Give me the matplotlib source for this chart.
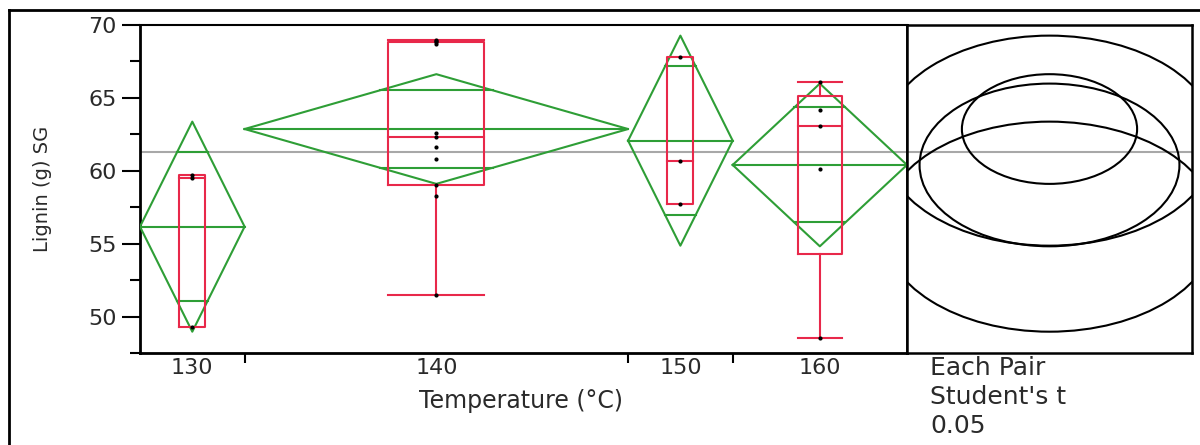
import numpy as np
import matplotlib
matplotlib.use("Agg")
import matplotlib.pyplot as plt
from matplotlib.patches import Ellipse
from matplotlib.lines import Line2D

# Lignin (g) SG by temperature group
temps = ["130", "140", "150", "160"]
lignin_130 = [49.3, 59.5, 59.7]
lignin_140 = [51.5, 58.3, 59.0, 60.8, 61.6, 62.3, 62.6, 68.7, 68.8, 68.9, 69.0]
lignin_150 = [57.7, 60.7, 67.8]
lignin_160 = [48.5, 60.1, 63.1, 64.2, 66.1]
groups = [lignin_130, lignin_140, lignin_150, lignin_160]

t_crit = 2.101  # Student's t, alpha 0.05, 18 df

red = "#e8284a"
green = "#2e9e36"
gray = "#a8a8a8"
txt = "#2a2a2a"

plt.rcParams['font.family'] = ['DejaVu Sans']

fig = plt.figure(figsize=(12, 4.45), dpi=100)
W, H = 1200, 445

def fx(px):
    return px / W

def fy(py):
    return 1 - py / H

# outer frame
fig.add_artist(Line2D([fx(9), fx(9)], [fy(10), 0], transform=fig.transFigure, color="black", lw=2))
fig.add_artist(Line2D([fx(9), 1], [fy(10), fy(10)], transform=fig.transFigure, color="black", lw=2))

ax = fig.add_axes([fx(140), fy(353), fx(907) - fx(140), fy(25) - fy(353)])
axc = fig.add_axes([fx(907), fy(353), fx(1192) - fx(907), fy(25) - fy(353)])

ns = np.array([len(g) for g in groups])
edges = np.concatenate([[0], np.cumsum(ns)])
centers = (edges[:-1] + edges[1:]) / 2
means = np.array([np.mean(g) for g in groups])
sse = sum(((np.array(g) - np.mean(g)) ** 2).sum() for g in groups)
mse = sse / (ns.sum() - len(groups))
half = t_crit * np.sqrt(mse / ns)
grand = np.mean(np.concatenate(groups))

ylo, yhi = 47.5, 70

ax.axhline(grand, color=gray, lw=1.5, zorder=1)

for i, g in enumerate(groups):
    l, r, c = edges[i], edges[i + 1], centers[i]
    m, h = means[i], half[i]
    # means diamond
    ax.plot([l, c, r, c, l], [m, m + h, m, m - h, m], color=green, lw=1.5, zorder=3)
    ax.plot([l, r], [m, m], color=green, lw=1.5, zorder=3)
    hw = (r - l) / 2
    for s in (1, -1):
        yv = m + s * h / np.sqrt(2)
        w = hw * (1 - 1 / np.sqrt(2))
        ax.plot([c - w, c + w], [yv, yv], color=green, lw=1.5, zorder=3)
    # box plot
    q1, med, q3 = np.percentile(g, [25, 50, 75], method="weibull")
    iqr = q3 - q1
    arr = np.array(g)
    wlo = arr[arr >= q1 - 1.5 * iqr].min()
    whi = arr[arr <= q3 + 1.5 * iqr].max()
    bw = 0.25 * (r - l) / 2
    ax.plot([c - bw, c + bw, c + bw, c - bw, c - bw], [q1, q1, q3, q3, q1], color=red, lw=1.5, zorder=4)
    ax.plot([c - bw, c + bw], [med, med], color=red, lw=1.5, zorder=4)
    if whi > q3:
        ax.plot([c, c], [q3, whi], color=red, lw=1.5, zorder=4)
        ax.plot([c - bw, c + bw], [whi, whi], color=red, lw=1.5, zorder=4)
    if wlo < q1:
        ax.plot([c, c], [wlo, q1], color=red, lw=1.5, zorder=4)
        ax.plot([c - bw, c + bw], [wlo, wlo], color=red, lw=1.5, zorder=4)
    ax.scatter(np.full(len(g), c), g, s=9, color="black", zorder=5, linewidths=0)

ax.set_xlim(edges[0], edges[-1])
ax.set_ylim(ylo, yhi)
ax.set_yticks([50, 55, 60, 65, 70])
ax.set_yticks([47.5, 52.5, 57.5, 62.5, 67.5], minor=True)
ax.tick_params(axis="y", which="major", length=13, width=1.5, labelsize=16, pad=4, labelcolor=txt)
ax.tick_params(axis="y", which="minor", length=7.2, width=1.5)
ax.set_xticks(edges[1:-1])
ax.set_xticklabels([])
ax.tick_params(axis="x", which="major", length=7.2, width=1.5, direction="out")
for c, lab in zip(centers, temps):
    ax.text(c, -0.015, lab, transform=ax.get_xaxis_transform(), ha="center", va="top",
            fontsize=16, color=txt)
ax.spines["left"].set_linewidth(2)
ax.spines["bottom"].set_linewidth(2)
ax.spines["top"].set_linewidth(1.5)
ax.spines["right"].set_linewidth(2)
ax.set_ylabel("Lignin (g) SG", fontsize=14, labelpad=26, color=txt)
fig.text(fx(521), fy(401), "Temperature (\u00b0C)", ha="center", va="center", fontsize=17, color=txt)

# comparison circles
axc.axhline(grand, color=gray, lw=1.5, zorder=1)
for m, h in zip(means, half):
    axc.add_patch(Ellipse((0, m), 2 * h, 2 * h, fill=False, edgecolor="black", lw=1.5, zorder=3))
axc.set_xlim(-6.12, 6.12)
axc.set_ylim(ylo, yhi)
axc.set_xticks([])
axc.set_yticks([])
for sp in axc.spines.values():
    sp.set_linewidth(1.8)

fig.text(fx(930), fy(368), "Each Pair", ha="left", va="center", fontsize=18, color=txt)
fig.text(fx(930), fy(397), "Student's t", ha="left", va="center", fontsize=18, color=txt)
fig.text(fx(930), fy(426), "0.05", ha="left", va="center", fontsize=18, color=txt)

fig.savefig("out.png", dpi=100)
